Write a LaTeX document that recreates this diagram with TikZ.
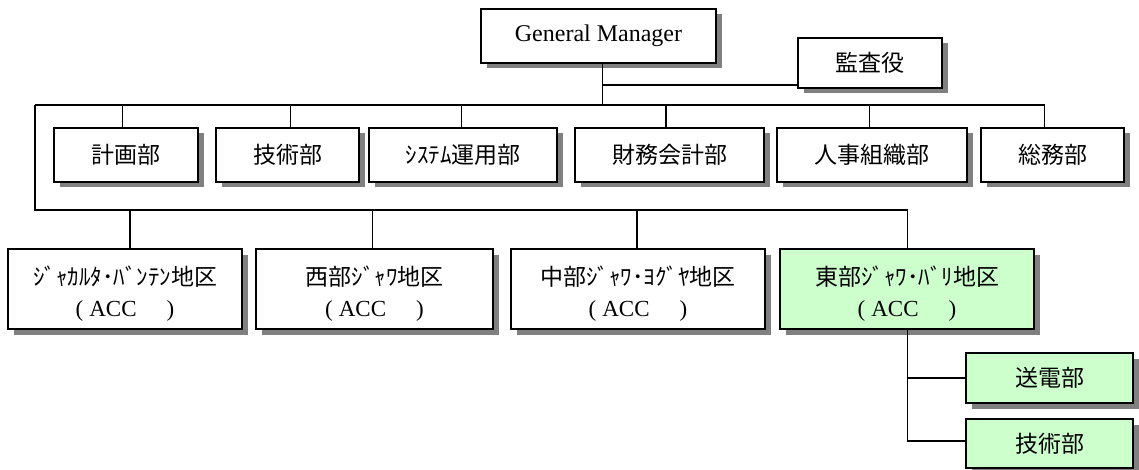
\documentclass[tikz,border=0pt]{standalone}
\usepackage{fontspec}
\setmainfont{Liberation Serif}
\newfontfamily\jp{Noto Sans CJK JP}
\usetikzlibrary{shadows}
\definecolor{shadowgray}{HTML}{808080}
\definecolor{lightgreen}{HTML}{CCFFCC}
\tikzset{
  box/.style={draw=black, line width=2.2pt, fill=white, inner sep=0pt,
    drop shadow={shadow xshift=5.5pt, shadow yshift=-5.5pt, fill=shadowgray, opacity=1},
    font=\fontsize{23}{31}\selectfont, align=center},
  greenbox/.style={box, fill=lightgreen},
  conn/.style={draw=black, line width=1.5pt},
}
\newcommand{\acc}{(\hspace{6pt}ACC\hspace{30pt})}
\newcommand{\upstrut}{\rule{0pt}{28pt}}
\begin{document}
\begin{tikzpicture}[x=1pt, y=-1pt]
\useasboundingbox (0,0) rectangle (1139,470);
% top
\node[box, minimum width=235pt, minimum height=54pt, font=\fontsize{24}{28}\selectfont] (GM) at (598.5,36) {General Manager};
\node[box, minimum width=144pt, minimum height=50pt] (kansa) at (870,63) {\jp 監査役};
% departments
\node[box, minimum width=144pt, minimum height=54pt] (d1) at (126,155) {\jp 計画部};
\node[box, minimum width=143pt, minimum height=54pt] (d2) at (287.5,155) {\jp 技術部};
\node[box, minimum width=188pt, minimum height=54pt] (d3) at (463,155) {\jp ｼｽﾃﾑ運用部};
\node[box, minimum width=189pt, minimum height=54pt] (d4) at (669.5,155) {\jp 財務会計部};
\node[box, minimum width=190pt, minimum height=54pt] (d5) at (872,155) {\jp 人事組織部};
\node[box, minimum width=143pt, minimum height=54pt] (d6) at (1052.5,155) {\jp 総務部};
% regions
\node[box, minimum width=234pt, minimum height=80pt] (r1) at (125,289) {\upstrut{\jp ｼﾞｬｶﾙﾀ･ﾊﾞﾝﾃﾝ地区}\\\acc};
\node[box, minimum width=237pt, minimum height=80pt] (r2) at (374.5,289) {\upstrut{\jp 西部ｼﾞｬﾜ地区}\\\acc};
\node[box, minimum width=254pt, minimum height=80pt] (r3) at (638,289) {\upstrut{\jp 中部ｼﾞｬﾜ･ﾖｸﾞﾔ地区}\\\acc};
\node[greenbox, minimum width=254pt, minimum height=80pt] (r4) at (907,289) {\upstrut{\jp 東部ｼﾞｬﾜ･ﾊﾞﾘ地区}\\\acc};
% sub
\node[greenbox, minimum width=167pt, minimum height=50pt] (s1) at (1049.5,378) {\jp 送電部};
\node[greenbox, minimum width=167pt, minimum height=49pt] (s2) at (1049.5,443.5) {\jp 技術部};
% connectors
\coordinate (busL) at (35,105);
\coordinate (busR) at (1044.3,105);
\coordinate (gmB) at (602.7,105);
\coordinate (gmK) at (602.7,85);
\draw[conn] (gmB |- GM.south) -- (gmB);
\draw[conn] (gmK) -- (gmK -| kansa.west);
\draw[conn] (busL) -- (busR) -- (busR |- d6.north);
\coordinate (t1) at (122.7,105);
\coordinate (t2) at (290.7,105);
\coordinate (t3) at (461.3,105);
\coordinate (t4) at (666,105);
\coordinate (t5) at (869.7,105);
\draw[conn] (t1) -- (t1 |- d1.north);
\draw[conn] (t2) -- (t2 |- d2.north);
\draw[conn] (t3) -- (t3 |- d3.north);
\draw[conn] (t4) -- (t4 |- d4.north);
\draw[conn] (t5) -- (t5 |- d5.north);
\coordinate (lowL) at (35,210);
\coordinate (lowR) at (907.7,210);
\draw[conn] (busL) -- (lowL) -- (lowR) -- (lowR |- r4.north);
\coordinate (u1) at (130,210);
\coordinate (u2) at (372.7,210);
\coordinate (u3) at (637,210);
\draw[conn] (u1) -- (u1 |- r1.north);
\draw[conn] (u2) -- (u2 |- r2.north);
\draw[conn] (u3) -- (u3 |- r3.north);
\coordinate (sv) at (907.7,441);
\draw[conn] (r4.south -| sv) -- (sv) -- (sv -| s2.west);
\draw[conn] (sv |- s1.west) -- (s1.west);
\end{tikzpicture}
\end{document}
